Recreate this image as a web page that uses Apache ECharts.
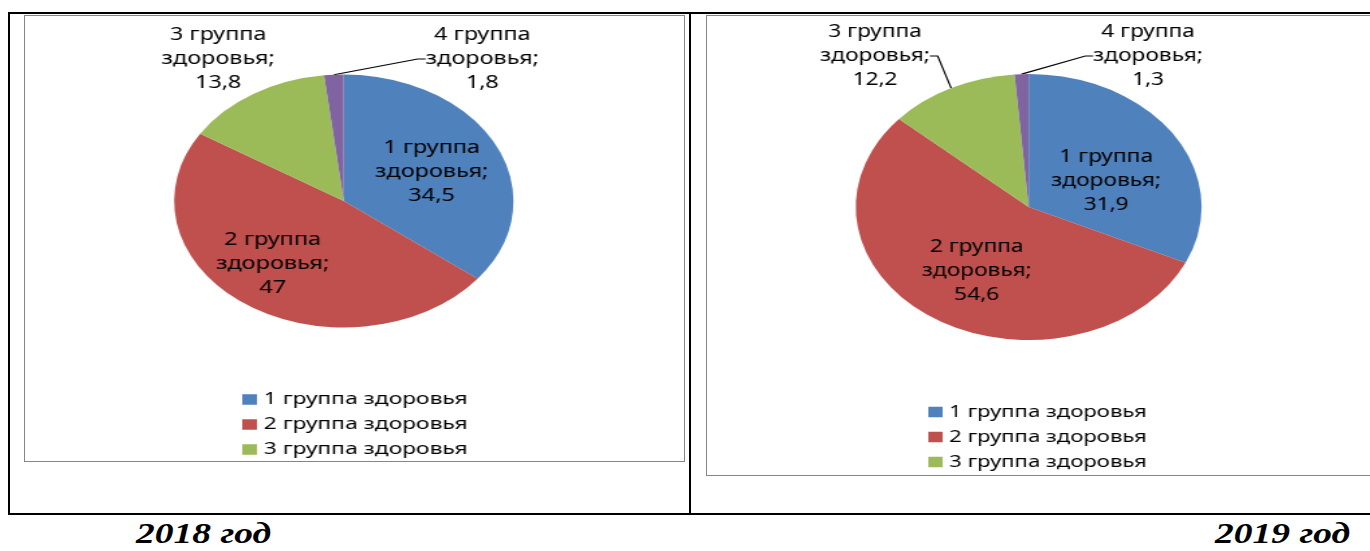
<!DOCTYPE html>
<html>
<head>
<meta charset="utf-8">
<title>Группы здоровья 2018-2019</title>
<script src="https://cdn.jsdelivr.net/npm/echarts@6.0.0/dist/echarts.min.js"></script>
<style>
    html, body { margin: 0; padding: 0; background: #fff; }
    body { position: relative; width: 1370px; height: 551px; overflow: hidden; }
    .bl { position: absolute; background: #000; }
    .frame { position: absolute; border: 1px solid #868686; box-sizing: border-box; }
    .chart { position: absolute; transform-origin: 0 0; }
    .cap { position: absolute; top: 518px; font: italic bold 30px/30px "Liberation Serif", serif;
           transform: scaleX(1.25); transform-origin: 0 0; white-space: nowrap; color: #000; }
</style>
</head>
<body>
<!-- таблица вокруг диаграмм -->
<div class="bl" style="left:8px;top:12px;width:1362px;height:2px"></div>
<div class="bl" style="left:8px;top:513px;width:1362px;height:2px"></div>
<div class="bl" style="left:8px;top:12px;width:2px;height:503px"></div>
<div class="bl" style="left:689px;top:12px;width:2px;height:503px"></div>
<!-- рамки областей диаграмм -->
<div class="frame" style="left:24px;top:15px;width:661px;height:447px"></div>
<div class="frame" style="left:706px;top:15px;width:680px;height:461px"></div>

<div id="chart2018" class="chart" style="left:25px;top:15px;width:490px;height:446px;transform:scaleX(1.341)"></div>
<div id="chart2019" class="chart" style="left:706px;top:15px;width:510px;height:460px;transform:scaleX(1.30)"></div>

<div class="cap" style="left:136px">2018 год</div>
<div class="cap" style="left:1215px">2019 год</div>

<script>
// данные
var names = ['1 группа здоровья', '2 группа здоровья', '3 группа здоровья', '4 группа здоровья'];
var values2018 = [34.5, 47, 13.8, 1.8];
var values2019 = [31.9, 54.6, 12.2, 1.3];
var colors = ['#4F81BD', '#C0504D', '#9BBB59', '#8064A2'];
// в легенде видны только три группы
var legendNames = names.slice(0, 3);

function commaNum(v) {
    return String(v).replace('.', ',');
}

function buildOption(values, cfg) {
    var data = [];
    for (var i = 0; i < names.length; i++) {
        var item = { name: names[i], value: values[i] };
        if (i < 2) item.label = { position: 'inside' };
        if (cfg.hideLine[i]) item.labelLine = { show: false };
        data.push(item);
    }
    return {
        animation: false,
        color: colors,
        legend: {
            data: legendNames,
            orient: 'vertical',
            left: cfg.legend[0],
            top: cfg.legend[1],
            padding: 0,
            itemWidth: 11,
            itemHeight: 10.5,
            itemGap: 7,
            icon: 'rect',
            selectedMode: false,
            textStyle: { color: '#000', fontFamily: 'Noto Sans', fontSize: 17, lineHeight: 18 }
        },
        series: [{
            type: 'pie',
            center: cfg.center,
            radius: cfg.radius,
            startAngle: 90,
            clockwise: true,
            data: data,
            itemStyle: { borderWidth: 0 },
            label: {
                position: 'outside',
                color: '#000',
                fontFamily: 'Noto Sans',
                fontSize: 17.5,
                lineHeight: 24,
                align: 'center',
                formatter: function (p) {
                    return p.name.replace(' здоровья', '\nздоровья') + ';\n' + commaNum(p.value);
                }
            },
            labelLine: { length: 10, length2: 6, lineStyle: { color: '#000', width: 1.2 } },
            labelLayout: function (p) {
                var i = p.dataIndex;
                if (i < 2) return { dx: cfg.inner[i][0], dy: cfg.inner[i][1] };
                var pos = cfg.outer[i - 2];
                return { x: pos[0], y: pos[1], align: 'center', verticalAlign: 'middle' };
            }
        }]
    };
}

var chart2018 = echarts.init(document.getElementById('chart2018'));
chart2018.setOption(buildOption(values2018, {
    center: [237.7, 186],
    radius: 126.5,
    legend: [162, 375.5],
    inner: [[6, 0], [-15, 9]],
    outer: [[144, 44], [341, 44]],
    hideLine: [false, false, true, false]
}));

var chart2019 = echarts.init(document.getElementById('chart2019'));
chart2019.setOption(buildOption(values2019, {
    center: [248.2, 192],
    radius: 133,
    legend: [171, 388],
    inner: [[1, 11], [-2, 6]],
    outer: [[130, 41], [340, 41]],
    hideLine: [false, false, false, false]
}));
</script>
</body>
</html>
